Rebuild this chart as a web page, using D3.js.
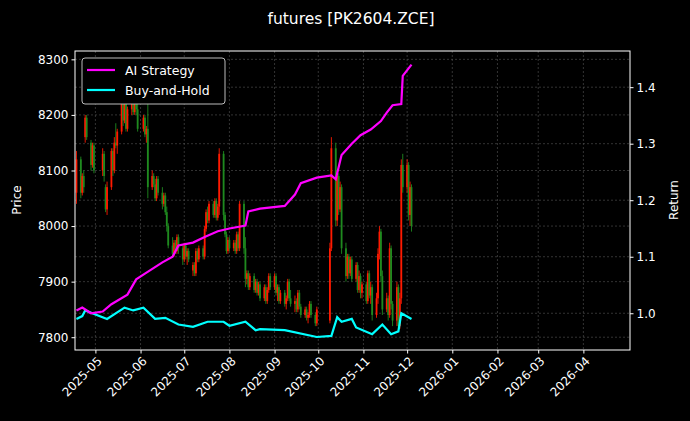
<!DOCTYPE html><html><head><meta charset="utf-8">
<script src="https://cdn.jsdelivr.net/npm/d3@7"></script>
<style>body{margin:0;background:#000}svg{display:block}text{font-family:"DejaVu Sans",sans-serif;fill:#fff}</style></head><body>
<svg id="c" width="690" height="421"></svg>
<script>
const title = "futures [PK2604.ZCE]";
const xTicks = ["2025-05","2025-06","2025-07","2025-08","2025-09","2025-10","2025-11","2025-12","2026-01","2026-02","2026-03","2026-04"];
const priceTicks = [7800,7900,8000,8100,8200,8300];
const returnTicks = [1.0,1.1,1.2,1.3,1.4];
const holidays = ["2025-05-01","2025-05-02","2025-05-05","2025-06-02","2025-10-01","2025-10-02","2025-10-03","2025-10-06","2025-10-07","2025-10-08"];
// monthly OHLC [open, high, low, close]
const ohlcApr = [[8060,8135,8040,8120],[8120,8125,8050,8060],[8060,8095,8055,8090],[8090,8100,8060,8070],[8160,8200,8150,8195],[8195,8200,8155,8160],[8150,8155,8100,8110],[8110,8150,8105,8145],[8145,8150,8095,8100]];
const ohlcMay = [[8100,8140,8090,8130],[8130,8135,8080,8090],[8070,8075,8025,8030],[8030,8080,8020,8070],[8070,8140,8065,8135],[8135,8140,8090,8100],[8100,8160,8095,8150],[8150,8185,8140,8145],[8145,8175,8130,8170],[8170,8240,8165,8230],[8230,8245,8180,8190],[8190,8250,8185,8240],[8240,8245,8170,8175],[8175,8215,8170,8210],[8210,8250,8200,8245],[8245,8250,8200,8205],[8205,8240,8200,8235],[8235,8240,8200,8210],[8210,8220,8170,8175]];
const ohlcJun = [[8175,8200,8170,8195],[8195,8200,8160,8165],[8165,8180,8150,8175],[8175,8240,8050,8070],[8070,8100,8065,8090],[8090,8095,8070,8075],[8075,8085,8045,8050],[8050,8090,8045,8085],[8085,8090,8055,8060],[8060,8070,8030,8040],[8040,8060,8035,8055],[8055,8060,8020,8025],[8025,8035,7990,8000],[8000,8005,7960,7965],[7965,7980,7945,7950],[7950,7975,7945,7970],[7970,7975,7950,7955],[7955,7985,7950,7980],[7980,7985,7950,7960],[7960,7965,7930,7940]];
const ohlcJul = [[7940,7970,7935,7965],[7965,7970,7940,7945],[7945,7960,7930,7955],[7955,7960,7935,7940],[7920,7935,7910,7930],[7930,7935,7910,7915],[7915,7960,7910,7955],[7955,7960,7935,7940],[7940,7965,7935,7960],[7960,7965,7940,7945],[7945,8000,7940,7995],[7995,8030,7990,8025],[8025,8035,8005,8010],[8010,8045,8005,8040],[8040,8045,8015,8020],[8020,8050,8015,8045],[8045,8050,8010,8015],[8015,8040,8010,8035],[8035,8140,8020,8130],[8130,8135,8010,8020],[8020,8025,7980,7985],[7985,7990,7950,7955],[7955,7980,7950,7975]];
const ohlcAug = [[7975,7980,7955,7960],[7960,7975,7955,7970],[7970,7975,7950,7955],[7955,7990,7950,7985],[7985,7990,7955,7960],[7960,8045,7955,8040],[8040,8045,7950,7960],[7960,7980,7890,7905],[7905,7920,7895,7915],[7915,7920,7885,7890],[7890,7915,7885,7910],[7910,7915,7880,7885],[7885,7905,7880,7900],[7900,7905,7875,7880],[7880,7900,7875,7895],[7895,7900,7865,7870],[7870,7895,7865,7890],[7890,7895,7860,7865],[7865,7890,7860,7885],[7885,7915,7880,7910],[7910,7915,7885,7890]];
const ohlcSep = [[7890,7915,7885,7910],[7910,7915,7875,7880],[7880,7895,7865,7890],[7890,7895,7860,7865],[7865,7885,7860,7880],[7880,7885,7855,7860],[7860,7875,7850,7870],[7870,7905,7865,7900],[7900,7905,7865,7870],[7870,7885,7855,7860],[7860,7875,7845,7865],[7865,7870,7845,7850],[7850,7885,7845,7880],[7880,7885,7850,7855],[7855,7860,7835,7840],[7840,7855,7835,7850],[7850,7855,7830,7835],[7835,7845,7825,7840],[7840,7865,7835,7860],[7860,7865,7835,7840],[7840,7845,7820,7825],[7825,7855,7820,7850]];
const ohlcOct = [[7830,7970,7825,7960],[7960,8160,7955,8140],[8140,8150,8000,8010],[8010,8100,8000,8090],[8090,8095,8020,8030],[8030,8080,8025,8070],[8070,8075,7950,7960],[7960,7970,7900,7910],[7910,7950,7905,7945],[7945,7950,7905,7915],[7915,7945,7910,7940],[7940,7945,7900,7905],[7905,7935,7900,7930],[7930,7935,7880,7885],[7885,7920,7880,7910],[7910,7915,7870,7880],[7880,7900,7870,7895]];
const ohlcNov = [[7895,7900,7860,7865],[7865,7920,7860,7915],[7915,7920,7870,7875],[7875,7900,7860,7890],[7890,7895,7830,7840],[7840,7880,7835,7870],[7870,7960,7860,7950],[7950,8000,7940,7990],[7990,7995,7900,7910],[7910,7920,7840,7850],[7850,7880,7845,7870],[7870,7875,7830,7840],[7840,7970,7835,7960],[7960,7965,7850,7860],[7860,7865,7820,7830],[7830,7900,7820,7890],[7890,7895,7810,7820],[7820,7880,7815,7870],[7870,8120,7860,8110],[8110,8130,8060,8070]];
const ohlcDec = [[8070,8120,8060,8110],[8110,8115,8010,8020],[8020,8080,8000,8070],[8070,8075,7990,8000]];
const aiDates = ["2025-04-18","2025-04-22","2025-04-28","2025-05-06","2025-05-12","2025-05-23","2025-05-29","2025-06-04","2025-06-16","2025-06-23","2025-06-27","2025-07-07","2025-07-15","2025-07-24","2025-08-01","2025-08-12","2025-08-14","2025-08-22","2025-09-08","2025-09-15","2025-09-19","2025-09-30","2025-10-10","2025-10-13","2025-10-17","2025-10-24","2025-10-30","2025-11-06","2025-11-13","2025-11-17","2025-11-21","2025-11-27","2025-11-28","2025-12-04"];
const aiValues = [1.005,1.01,1.0,1.003,1.016,1.033,1.06,1.07,1.09,1.10,1.12,1.125,1.135,1.145,1.15,1.155,1.18,1.185,1.19,1.21,1.23,1.24,1.244,1.237,1.28,1.30,1.315,1.325,1.34,1.355,1.368,1.37,1.42,1.44];
const bhDates = ["2025-04-18","2025-04-22","2025-04-24","2025-05-09","2025-05-21","2025-05-27","2025-06-03","2025-06-11","2025-06-18","2025-06-27","2025-07-07","2025-07-17","2025-07-28","2025-08-01","2025-08-12","2025-08-19","2025-08-22","2025-09-08","2025-09-30","2025-10-10","2025-10-14","2025-10-17","2025-10-24","2025-10-27","2025-11-07","2025-11-14","2025-11-20","2025-11-25","2025-11-27","2025-12-04"];
const bhValues = [0.99,0.995,1.005,0.99,1.01,1.005,1.01,0.99,0.992,0.98,0.976,0.985,0.985,0.978,0.985,0.97,0.972,0.97,0.958,0.96,0.993,0.985,0.99,0.975,0.963,0.98,0.963,0.968,1.0,0.99];

const P = d3.timeParse("%Y-%m-%d");
const svg = d3.select("#c");
const m = {l:75, r:630, t:51, b:350};
const x = d3.scaleTime().domain([P("2025-04-17"), P("2026-05-03")]).range([m.l, m.r]);
const yP = d3.scaleLinear().domain([7777, 8315]).range([m.b, m.t]);
const yR = d3.scaleLinear().domain([0.935, 1.464]).range([m.b, m.t]);

const hol = new Set(holidays);
const months = [["2025-04-18","2025-04-30",ohlcApr],["2025-05-01","2025-05-31",ohlcMay],["2025-06-01","2025-06-30",ohlcJun],["2025-07-01","2025-07-31",ohlcJul],["2025-08-01","2025-08-31",ohlcAug],["2025-09-01","2025-09-30",ohlcSep],["2025-10-01","2025-10-31",ohlcOct],["2025-11-01","2025-11-30",ohlcNov],["2025-12-01","2025-12-04",ohlcDec]];
const candles = [];
months.forEach(([s,e,arr])=>{
  const days = d3.timeDay.range(P(s), d3.timeDay.offset(P(e),1)).filter(d=>d.getDay()%6!==0 && !hol.has(d3.timeFormat("%Y-%m-%d")(d)));
  arr.forEach((v,i)=>{ if(i<days.length) candles.push({d:days[i],o:v[0],h:v[1],l:v[2],c:v[3]}); });
});

const g = svg.append("g");
xTicks.forEach(t=>g.append("line").attr("x1",x(P(t+"-01"))).attr("x2",x(P(t+"-01"))).attr("y1",m.t).attr("y2",m.b));
priceTicks.forEach(t=>g.append("line").attr("x1",m.l).attr("x2",m.r).attr("y1",yP(t)).attr("y2",yP(t)));
returnTicks.forEach(t=>g.append("line").attr("x1",m.l).attr("x2",m.r).attr("y1",yR(t)).attr("y2",yR(t)));
g.selectAll("line").attr("stroke","#555").attr("stroke-width",0.6).attr("stroke-dasharray","2,2");

const cg = svg.append("g");
candles.forEach(k=>{
  const col = k.c>=k.o ? "#ff1a00" : "#1f8a1f";
  const cx = x(k.d);
  cg.append("line").attr("x1",cx).attr("x2",cx).attr("y1",yP(k.h)).attr("y2",yP(k.l)).attr("stroke",col).attr("stroke-width",0.9);
  cg.append("rect").attr("x",cx-0.9).attr("width",1.8).attr("y",yP(Math.max(k.o,k.c))).attr("height",Math.max(0.8,Math.abs(yP(k.o)-yP(k.c)))).attr("fill",col);
});

const line = d3.line().x(d=>x(d[0])).y(d=>yR(d[1]));
svg.append("path").datum(bhDates.map((d,i)=>[P(d),bhValues[i]])).attr("d",line).attr("fill","none").attr("stroke","#00ffff").attr("stroke-width",2.2);
svg.append("path").datum(aiDates.map((d,i)=>[P(d),aiValues[i]])).attr("d",line).attr("fill","none").attr("stroke","#ff00ff").attr("stroke-width",2.2);

svg.append("rect").attr("x",m.l).attr("y",m.t).attr("width",m.r-m.l).attr("height",m.b-m.t).attr("fill","none").attr("stroke","#fff").attr("stroke-width",1);

const ax = svg.append("g").attr("transform",`translate(0,${m.b})`).call(d3.axisBottom(x).tickValues(xTicks.map(t=>P(t+"-01"))).tickFormat(d3.timeFormat("%Y-%m")).tickSize(3.5));
ax.selectAll("text").attr("transform","rotate(-45)").attr("text-anchor","end").attr("dx","-0.3em").attr("dy","0.55em").style("font-size","12px");
const ay = svg.append("g").attr("transform",`translate(${m.l},0)`).call(d3.axisLeft(yP).tickValues(priceTicks).tickSize(3.5).tickFormat(d3.format("d")));
ay.selectAll("text").style("font-size","12px");
const ar = svg.append("g").attr("transform",`translate(${m.r},0)`).call(d3.axisRight(yR).tickValues(returnTicks).tickSize(3.5).tickFormat(d3.format(".1f")));
ar.selectAll("text").style("font-size","12px");
svg.selectAll(".domain").remove();
svg.selectAll(".tick line").attr("stroke","#fff");
svg.selectAll(".tick text").style("fill","#fff");

svg.append("text").attr("x",351).attr("y",24).attr("text-anchor","middle").style("font-size","15.5px").text(title);
svg.append("text").attr("transform","translate(21,200) rotate(-90)").attr("text-anchor","middle").style("font-size","12px").text("Price");
svg.append("text").attr("transform","translate(678,200) rotate(-90)").attr("text-anchor","middle").style("font-size","12px").text("Return");

const lg = svg.append("g");
lg.append("rect").attr("x",82).attr("y",58).attr("width",143).attr("height",46).attr("rx",3).attr("fill","#000").attr("stroke","#bbb");
[["AI Strategy","#ff00ff"],["Buy-and-Hold","#00ffff"]].forEach(([t,c],i)=>{
  const yy = 70 + i*20;
  lg.append("line").attr("x1",87).attr("x2",115).attr("y1",yy).attr("y2",yy).attr("stroke",c).attr("stroke-width",2.2);
  lg.append("text").attr("x",125).attr("y",yy+4.5).style("font-size","12.5px").text(t);
});
</script></body></html>
